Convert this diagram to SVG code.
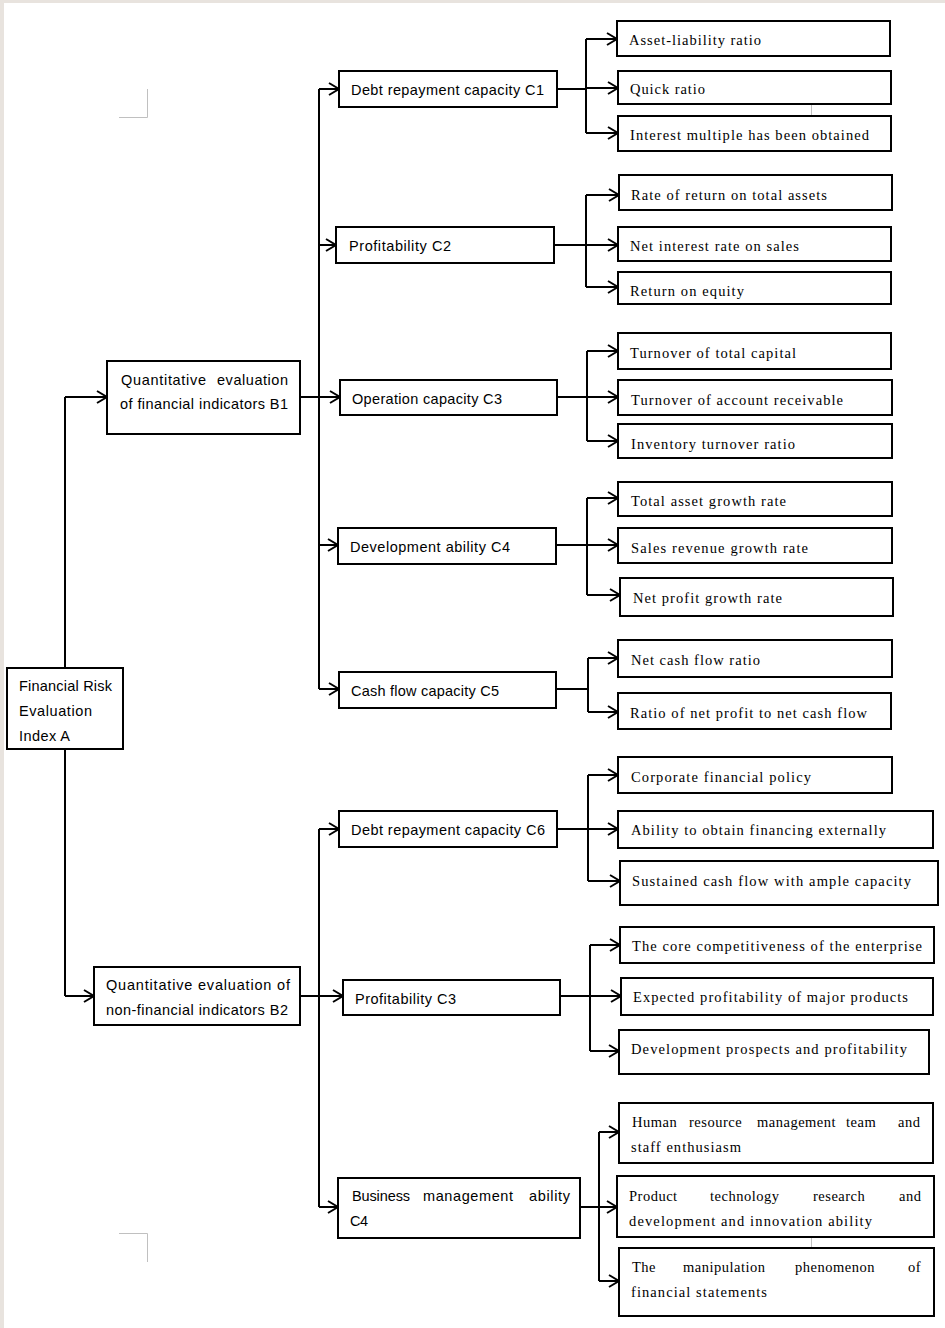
<svg xmlns="http://www.w3.org/2000/svg" width="945" height="1328" viewBox="0 0 945 1328">
<style>
.box{fill:#fff;stroke:#000;stroke-width:2}
.sans{font-family:"Liberation Sans",Arial,sans-serif;font-size:14.5px;fill:#000}
.ser{font-family:"Liberation Serif","Times New Roman",serif;font-size:14.5px;fill:#000}
.jus{letter-spacing:0.5px}
.ln{fill:none;stroke:#000;stroke-width:2}
.ar{fill:none;stroke:#000;stroke-width:2;marker-end:url(#arr)}
.mk{fill:none;stroke:#c0c0c0;stroke-width:1}
</style>
<defs>
<marker id="arr" markerUnits="userSpaceOnUse" markerWidth="14" markerHeight="16" refX="11" refY="7" orient="auto" viewBox="0 0 14 14">
<path d="M1,1 L11,7 L1,13" fill="none" stroke="#000" stroke-width="2"/>
</marker>
</defs>
<rect x="0" y="0" width="945" height="1328" fill="#e8e3de"/>
<rect x="4" y="3" width="941" height="1325" fill="#fff"/>
<g id="marks">
<path class="mk" d="M119,117.5 H147.5 V89"/>
<path class="mk" d="M119,1233.5 H147.5 V1262"/>
<path class="mk" d="M811.5,105 V115"/>
<path class="mk" d="M811.5,1238 V1247"/>
</g>
<g id="connectors">
<path class="ln" d="M65,668 V397"/>
<path class="ar" d="M65,397 H107"/>
<path class="ln" d="M65,749 V996"/>
<path class="ar" d="M65,996 H94"/>
<path class="ln" d="M300,397 H319"/>
<path class="ln" d="M319,89 V689"/>
<path class="ar" d="M319,89 H339"/>
<path class="ar" d="M319,245 H336"/>
<path class="ar" d="M319,397 H340"/>
<path class="ar" d="M319,545 H338"/>
<path class="ar" d="M319,689 H339"/>
<path class="ln" d="M557,89 H586"/>
<path class="ln" d="M586,39 V133"/>
<path class="ar" d="M586,39 H617"/>
<path class="ar" d="M586,88 H618"/>
<path class="ar" d="M586,133 H618"/>
<path class="ln" d="M554,245 H586"/>
<path class="ln" d="M586,195 V287"/>
<path class="ar" d="M586,195 H619"/>
<path class="ar" d="M586,245 H618"/>
<path class="ar" d="M586,287 H618"/>
<path class="ln" d="M557,397 H587"/>
<path class="ln" d="M587,351 V441"/>
<path class="ar" d="M587,351 H618"/>
<path class="ar" d="M587,397 H618"/>
<path class="ar" d="M587,441 H618"/>
<path class="ln" d="M556,545 H587"/>
<path class="ln" d="M587,498 V595"/>
<path class="ar" d="M587,498 H618"/>
<path class="ar" d="M587,545 H618"/>
<path class="ar" d="M587,595 H620"/>
<path class="ln" d="M556,689 H588"/>
<path class="ln" d="M588,658 V712"/>
<path class="ar" d="M588,658 H618"/>
<path class="ar" d="M588,712 H618"/>
<path class="ln" d="M300,996 H319"/>
<path class="ln" d="M319,829 V1207"/>
<path class="ar" d="M319,829 H339"/>
<path class="ar" d="M319,996 H343"/>
<path class="ar" d="M319,1207 H338"/>
<path class="ln" d="M557,829 H588"/>
<path class="ln" d="M588,775 V881"/>
<path class="ar" d="M588,775 H618"/>
<path class="ar" d="M588,829 H618"/>
<path class="ar" d="M588,881 H620"/>
<path class="ln" d="M560,996 H590"/>
<path class="ln" d="M590,945 V1051"/>
<path class="ar" d="M590,945 H620"/>
<path class="ar" d="M590,996 H621"/>
<path class="ar" d="M590,1051 H619"/>
<path class="ln" d="M580,1207 H599"/>
<path class="ln" d="M599,1132 V1281"/>
<path class="ar" d="M599,1132 H619"/>
<path class="ar" d="M599,1207 H617"/>
<path class="ar" d="M599,1281 H619"/>
</g>
<g id="A"><rect class="box" x="7" y="668" width="116" height="81"/>
<text class="sans" x="19" y="691" textLength="93" lengthAdjust="spacing">Financial Risk</text>
<text class="sans" x="19" y="716" textLength="73" lengthAdjust="spacing">Evaluation</text>
<text class="sans" x="19" y="741" textLength="51" lengthAdjust="spacing">Index A</text></g>
<g id="B1"><rect class="box" x="107" y="361" width="193" height="73"/>
<text class="sans" y="385"><tspan x="121" textLength="85" lengthAdjust="spacing">Quantitative</tspan> <tspan x="217" textLength="71" lengthAdjust="spacing">evaluation</tspan></text>
<text class="sans" x="120" y="409" textLength="168" lengthAdjust="spacing">of financial indicators B1</text></g>
<g id="B2"><rect class="box" x="94" y="967" width="206" height="58"/>
<text class="sans" x="106" y="990" textLength="184" lengthAdjust="spacing">Quantitative evaluation of</text>
<text class="sans" x="106" y="1015" textLength="182" lengthAdjust="spacing">non-financial indicators B2</text></g>
<g id="C1"><rect class="box" x="339" y="71" width="218" height="36"/>
<text class="sans" x="351" y="95" textLength="193" lengthAdjust="spacing">Debt repayment capacity C1</text></g>
<g id="C2"><rect class="box" x="336" y="227" width="218" height="36"/>
<text class="sans" x="349" y="251" textLength="102" lengthAdjust="spacing">Profitability C2</text></g>
<g id="C3"><rect class="box" x="340" y="380" width="217" height="35"/>
<text class="sans" x="352" y="404" textLength="150" lengthAdjust="spacing">Operation capacity C3</text></g>
<g id="C4"><rect class="box" x="338" y="528" width="218" height="36"/>
<text class="sans" x="350" y="552" textLength="160" lengthAdjust="spacing">Development ability C4</text></g>
<g id="C5"><rect class="box" x="339" y="672" width="217" height="36"/>
<text class="sans" x="351" y="696" textLength="148" lengthAdjust="spacing">Cash flow capacity C5</text></g>
<g id="C6"><rect class="box" x="339" y="811" width="218" height="36"/>
<text class="sans" x="351" y="835" textLength="194" lengthAdjust="spacing">Debt repayment capacity C6</text></g>
<g id="C3b"><rect class="box" x="343" y="980" width="217" height="35"/>
<text class="sans" x="355" y="1004" textLength="101" lengthAdjust="spacing">Profitability C3</text></g>
<g id="C4b"><rect class="box" x="338" y="1178" width="242" height="60"/>
<text class="sans" y="1201"><tspan x="352" textLength="58" lengthAdjust="spacing">Business</tspan> <tspan x="423" textLength="90" lengthAdjust="spacing">management</tspan> <tspan x="529" textLength="41" lengthAdjust="spacing">ability</tspan></text>
<text class="sans" x="350" y="1226" textLength="18" lengthAdjust="spacing">C4</text></g>
<g id="D1"><rect class="box" x="617" y="21" width="273" height="35"/>
<text class="ser" x="629" y="45" textLength="132" lengthAdjust="spacing">Asset-liability ratio</text></g>
<g id="D2"><rect class="box" x="618" y="71" width="273" height="33"/>
<text class="ser" x="630" y="94" textLength="75" lengthAdjust="spacing">Quick ratio</text></g>
<g id="D3"><rect class="box" x="618" y="116" width="273" height="35"/>
<text class="ser" x="630" y="140" textLength="239" lengthAdjust="spacing">Interest multiple has been obtained</text></g>
<g id="D4"><rect class="box" x="619" y="175" width="273" height="35"/>
<text class="ser" x="631" y="200" textLength="196" lengthAdjust="spacing">Rate of return on total assets</text></g>
<g id="D5"><rect class="box" x="618" y="227" width="273" height="34"/>
<text class="ser" x="630" y="251" textLength="169" lengthAdjust="spacing">Net interest rate on sales</text></g>
<g id="D6"><rect class="box" x="618" y="272" width="273" height="32"/>
<text class="ser" x="630" y="296" textLength="114" lengthAdjust="spacing">Return on equity</text></g>
<g id="D7"><rect class="box" x="618" y="333" width="273" height="36"/>
<text class="ser" x="630" y="358" textLength="166" lengthAdjust="spacing">Turnover of total capital</text></g>
<g id="D8"><rect class="box" x="618" y="380" width="274" height="35"/>
<text class="ser" x="631" y="405" textLength="212" lengthAdjust="spacing">Turnover of account receivable</text></g>
<g id="D9"><rect class="box" x="618" y="424" width="274" height="34"/>
<text class="ser" x="631" y="449" textLength="164" lengthAdjust="spacing">Inventory turnover ratio</text></g>
<g id="D10"><rect class="box" x="618" y="482" width="274" height="34"/>
<text class="ser" x="631" y="506" textLength="155" lengthAdjust="spacing">Total asset growth rate</text></g>
<g id="D11"><rect class="box" x="618" y="528" width="274" height="35"/>
<text class="ser" x="631" y="553" textLength="177" lengthAdjust="spacing">Sales revenue growth rate</text></g>
<g id="D12"><rect class="box" x="620" y="578" width="273" height="38"/>
<text class="ser" x="633" y="603" textLength="149" lengthAdjust="spacing">Net profit growth rate</text></g>
<g id="D13"><rect class="box" x="618" y="640" width="274" height="37"/>
<text class="ser" x="631" y="665" textLength="129" lengthAdjust="spacing">Net cash flow ratio</text></g>
<g id="D14"><rect class="box" x="618" y="693" width="273" height="36"/>
<text class="ser" x="630" y="718" textLength="237" lengthAdjust="spacing">Ratio of net profit to net cash flow</text></g>
<g id="E1"><rect class="box" x="618" y="757" width="274" height="36"/>
<text class="ser" x="631" y="782" textLength="180" lengthAdjust="spacing">Corporate financial policy</text></g>
<g id="E2"><rect class="box" x="618" y="811" width="315" height="37"/>
<text class="ser" x="631" y="835" textLength="255" lengthAdjust="spacing">Ability to obtain financing externally</text></g>
<g id="E3"><rect class="box" x="620" y="861" width="318" height="44"/>
<text class="ser" x="632" y="886" textLength="279" lengthAdjust="spacing">Sustained cash flow with ample capacity</text></g>
<g id="E4"><rect class="box" x="620" y="927" width="314" height="36"/>
<text class="ser" x="632" y="951" textLength="290" lengthAdjust="spacing">The core competitiveness of the enterprise</text></g>
<g id="E5"><rect class="box" x="621" y="978" width="312" height="37"/>
<text class="ser" x="633" y="1002" textLength="275" lengthAdjust="spacing">Expected profitability of major products</text></g>
<g id="E6"><rect class="box" x="619" y="1030" width="310" height="44"/>
<text class="ser" x="631" y="1054" textLength="276" lengthAdjust="spacing">Development prospects and profitability</text></g>
<g id="E7"><rect class="box" x="619" y="1103" width="314" height="60"/>
<text class="ser jus" y="1127"><tspan x="632">Human</tspan> <tspan x="689">resource</tspan> <tspan x="757">management</tspan> <tspan x="846">team</tspan> <tspan x="898">and</tspan></text>
<text class="ser" x="631" y="1152" textLength="110" lengthAdjust="spacing">staff enthusiasm</text></g>
<g id="E8"><rect class="box" x="617" y="1176" width="317" height="61"/>
<text class="ser jus" y="1201"><tspan x="629">Product</tspan> <tspan x="710">technology</tspan> <tspan x="813">research</tspan> <tspan x="899">and</tspan></text>
<text class="ser" x="629" y="1226" textLength="243" lengthAdjust="spacing">development and innovation ability</text></g>
<g id="E9"><rect class="box" x="619" y="1248" width="315" height="68"/>
<text class="ser jus" y="1272"><tspan x="632">The</tspan> <tspan x="683">manipulation</tspan> <tspan x="795">phenomenon</tspan> <tspan x="908">of</tspan></text>
<text class="ser" x="631" y="1297" textLength="136" lengthAdjust="spacing">financial statements</text></g>
</svg>
